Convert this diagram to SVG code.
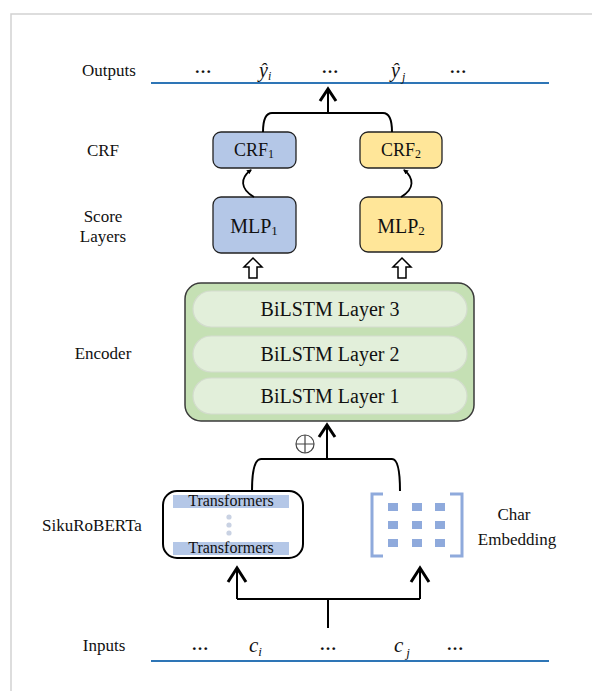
<svg xmlns="http://www.w3.org/2000/svg" width="592" height="691" viewBox="0 0 592 691">
<style>
text{font-family:"Liberation Serif","Times New Roman",serif;fill:#111}
.lbl{font-size:17px;text-anchor:middle}
.box{stroke:#222;stroke-width:1.3}
.blue{fill:#B4C7E7}
.yel{fill:#FFE699}
.pill{fill:#E2EFDA;stroke:#D3DCCD;stroke-width:1.2}
.ln{fill:none;stroke:#000;stroke-width:2}
.hd{fill:none;stroke:#000;stroke-width:3;stroke-linejoin:miter}
.rule{stroke:#2E75B6;stroke-width:2}
.emb{fill:#8FAADC}
.dots{font-size:17px;text-anchor:middle;font-weight:bold}
.it{font-style:italic}
</style>
<defs>
<marker id="sm" viewBox="0 0 10 10" refX="8" refY="5" markerWidth="5" markerHeight="5" orient="auto" markerUnits="userSpaceOnUse">
<path d="M0,0 L10,5 L0,10 Z" fill="#000"/>
</marker>
</defs>
<rect x="11" y="14" width="620" height="720" fill="#fff" stroke="#d2d2d2" stroke-width="1.5"/>

<g id="outputs">
<text class="lbl" x="109" y="76">Outputs</text>
<line class="rule" x1="151" y1="83" x2="549" y2="83"/>
<text class="dots" x="203" y="73">…</text>
<text x="259" y="77" font-size="20" class="it">ŷ<tspan font-size="12" dy="3">i</tspan></text>
<text class="dots" x="330" y="73">…</text>
<text x="391" y="77" font-size="20" class="it">ŷ<tspan font-size="12" dy="4" dx="2">j</tspan></text>
<text class="dots" x="458" y="73">…</text>
</g>

<g id="side-labels">
<text class="lbl" x="103" y="156">CRF</text>
<text class="lbl" x="103" y="222">Score</text>
<text class="lbl" x="103" y="242">Layers</text>
<text class="lbl" x="103" y="359">Encoder</text>
<text class="lbl" x="92" y="531">SikuRoBERTa</text>
</g>

<g id="crf1">
<rect class="box blue" x="213" y="132" width="83" height="36" rx="8"/>
<text x="254" y="156" font-size="18" text-anchor="middle">CRF<tspan font-size="12" dy="2">1</tspan></text>
</g>
<g id="crf2">
<rect class="box yel" x="360" y="132" width="82" height="36" rx="8"/>
<text x="401" y="156" font-size="18" text-anchor="middle">CRF<tspan font-size="12" dy="2">2</tspan></text>
</g>
<g id="mlp1">
<rect class="box blue" x="213" y="197" width="83" height="56" rx="8"/>
<text x="254" y="233" font-size="20" text-anchor="middle">MLP<tspan font-size="13" dy="2">1</tspan></text>
</g>
<g id="mlp2">
<rect class="box yel" x="360" y="197" width="82" height="55" rx="8"/>
<text x="401" y="233" font-size="20" text-anchor="middle">MLP<tspan font-size="13" dy="2">2</tspan></text>
</g>

<g id="encoder">
<rect x="185" y="283" width="289" height="138" rx="16" fill="#C5E0B4" stroke="#3a3a3a" stroke-width="1.5"/>
<rect class="pill" x="193" y="291" width="274" height="36" rx="18"/>
<text x="330" y="316" font-size="20" text-anchor="middle">BiLSTM Layer 3</text>
<rect class="pill" x="193" y="336" width="274" height="36" rx="18"/>
<text x="330" y="361" font-size="20" text-anchor="middle">BiLSTM Layer 2</text>
<rect class="pill" x="193" y="378" width="274" height="36" rx="18"/>
<text x="330" y="403" font-size="20" text-anchor="middle">BiLSTM Layer 1</text>
</g>

<g id="sikuroberta">
<rect x="163" y="491" width="140" height="67" rx="14" fill="#fff" stroke="#000" stroke-width="2"/>
<rect class="blue" x="173" y="495" width="116" height="13"/>
<rect class="blue" x="173" y="542" width="116" height="13"/>
<text x="231" y="506" font-size="16" text-anchor="middle">Transformers</text>
<text x="231" y="553" font-size="16" text-anchor="middle">Transformers</text>
<circle cx="229" cy="517" r="2.6" fill="#C9D2E3"/>
<circle cx="229" cy="525" r="2.6" fill="#C9D2E3"/>
<circle cx="229" cy="533" r="2.6" fill="#C9D2E3"/>
</g>

<g id="char-embedding">
<path d="M383,494 H372 V556 H383 M450,494 H462 V556 H450" fill="none" stroke="#8FAADC" stroke-width="3"/>
<rect class="emb" x="388" y="503" width="10" height="8"/>
<rect class="emb" x="412" y="503" width="10" height="8"/>
<rect class="emb" x="435" y="503" width="10" height="8"/>
<rect class="emb" x="388" y="521" width="10" height="8"/>
<rect class="emb" x="412" y="521" width="10" height="8"/>
<rect class="emb" x="435" y="521" width="10" height="8"/>
<rect class="emb" x="388" y="539" width="10" height="8"/>
<rect class="emb" x="412" y="539" width="10" height="8"/>
<rect class="emb" x="435" y="539" width="10" height="8"/>
<text class="lbl" x="514" y="520">Char</text>
<text class="lbl" x="517" y="545">Embedding</text>
</g>

<g id="inputs">
<text class="lbl" x="104" y="651">Inputs</text>
<line class="rule" x1="151" y1="661" x2="549" y2="661"/>
<text class="dots" x="200" y="650">…</text>
<text x="249" y="652" font-size="21" class="it">c<tspan font-size="13" dy="4">i</tspan></text>
<text class="dots" x="328" y="650">…</text>
<text x="394" y="652" font-size="21" class="it">c<tspan font-size="13" dy="5" dx="3">j</tspan></text>
<text class="dots" x="455" y="650">…</text>
</g>

<g id="connectors">
<path class="ln" d="M263,132 Q263,113 272,113 L383,113 Q392,113 392,132"/>
<path class="ln" d="M328,113 V89"/>
<path class="hd" d="M320,101 L328,89 L336,101"/>
<path d="M254,197 C240,189 240,178 251,170" fill="none" stroke="#000" stroke-width="1.8" marker-end="url(#sm)"/>
<path d="M401,197 C415,189 414,178 404,170" fill="none" stroke="#000" stroke-width="1.8" marker-end="url(#sm)"/>
<path d="M253,258 L262,267 L257,267 L257,278 L249,278 L249,267 L244,267 Z" fill="#fff" stroke="#000" stroke-width="1.5" stroke-linejoin="miter"/>
<path d="M402,258 L411,267 L406,267 L406,278 L398,278 L398,267 L393,267 Z" fill="#fff" stroke="#000" stroke-width="1.5" stroke-linejoin="miter"/>
<path class="ln" d="M252,491 Q252,459 261,459 L392,459 Q400,459 400,491"/>
<path class="ln" d="M327,459 V425"/>
<path class="hd" d="M319,437 L327,425 L335,437"/>
<g id="plus">
<circle cx="305" cy="444" r="9" fill="none" stroke="#444" stroke-width="1.2"/>
<path d="M296,444 H314 M305,435 V453" stroke="#444" stroke-width="1.2"/>
</g>
<path class="ln" d="M328,628 V599 M237,599 H420 M237,599 V568 M420,599 V568"/>
<path class="hd" d="M228,582 L237,568 L246,582"/>
<path class="hd" d="M411,582 L420,568 L429,582"/>
</g>
</svg>
